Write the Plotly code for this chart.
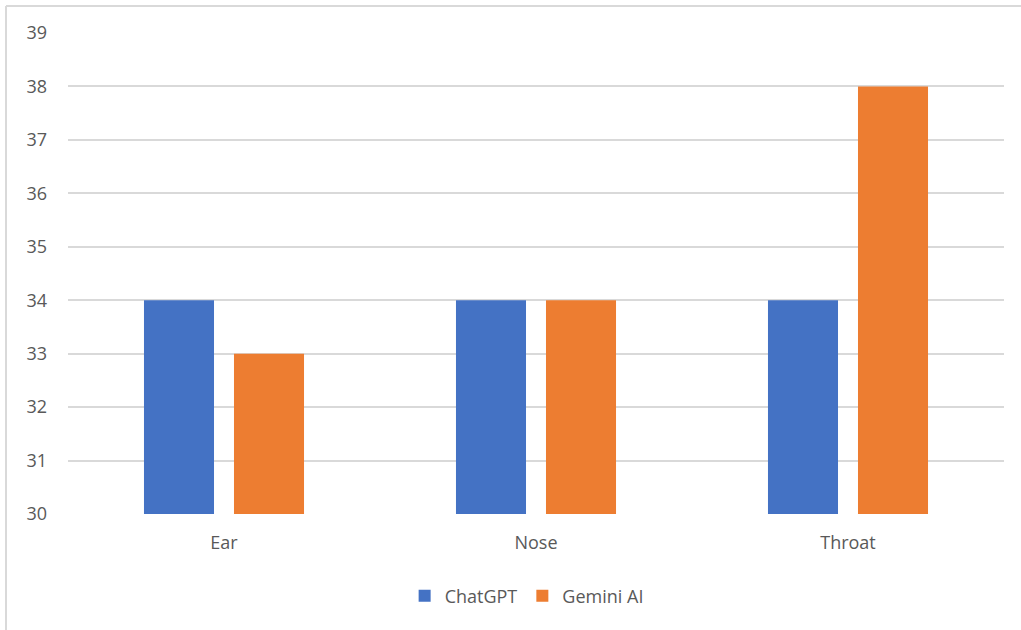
import plotly.graph_objects as go

categories = ["Ear", "Nose", "Throat"]
chatgpt = [34, 34, 34]
gemini = [33, 34, 38]
y_ticks = [30, 31, 32, 33, 34, 35, 36, 37, 38, 39]

W, H = 1021, 630
L, R, T, B = 68, 17, 33, 116
pw, ph = W - L - R, H - T - B

fig = go.Figure()
fig.add_trace(go.Bar(name="ChatGPT", x=categories, y=[v - 30 for v in chatgpt], base=30,
                     marker=dict(color="#4472C4", line=dict(width=0)),
                     hoverinfo="skip"))
fig.add_trace(go.Bar(name="Gemini AI", x=categories, y=[v - 30 for v in gemini], base=30,
                     marker=dict(color="#ED7D31", line=dict(width=0)),
                     hoverinfo="skip"))

def px_x(p):
    return (p - L) / pw

def px_y(p):
    return (H - B - p) / ph

border = "#D9D9D9"
fig.add_shape(type="line", xref="paper", yref="paper",
              x0=px_x(6), x1=px_x(W + 5), y0=px_y(6), y1=px_y(6),
              line=dict(color=border, width=2))
fig.add_shape(type="line", xref="paper", yref="paper",
              x0=px_x(6), x1=px_x(6), y0=px_y(6), y1=px_y(H + 5),
              line=dict(color=border, width=2))

fig.update_layout(
    width=W, height=H,
    margin=dict(l=L, r=R, t=T, b=B),
    paper_bgcolor="white", plot_bgcolor="white",
    barmode="group", bargap=0.423, bargroupgap=0.222,
    font=dict(family="Open Sans, Noto Sans, sans-serif", color="#595959", size=18),
    showlegend=True,
    legend=dict(orientation="h", x=0.49, xanchor="center", y=px_y(596), yanchor="middle",
                font=dict(size=18, color="#595959"), itemwidth=30, traceorder="normal",
                tracegroupgap=0),
    xaxis=dict(showgrid=False, showline=False, ticks="", tickfont=dict(size=18),
               ticklabelstandoff=16),
    yaxis=dict(range=[30, 39], tickvals=y_ticks, showgrid=True, gridcolor="#D9D9D9",
               gridwidth=2, zeroline=False, showline=False, ticks="",
               tickfont=dict(size=18), ticklabelstandoff=20),
)

fig.write_html("out.html")
